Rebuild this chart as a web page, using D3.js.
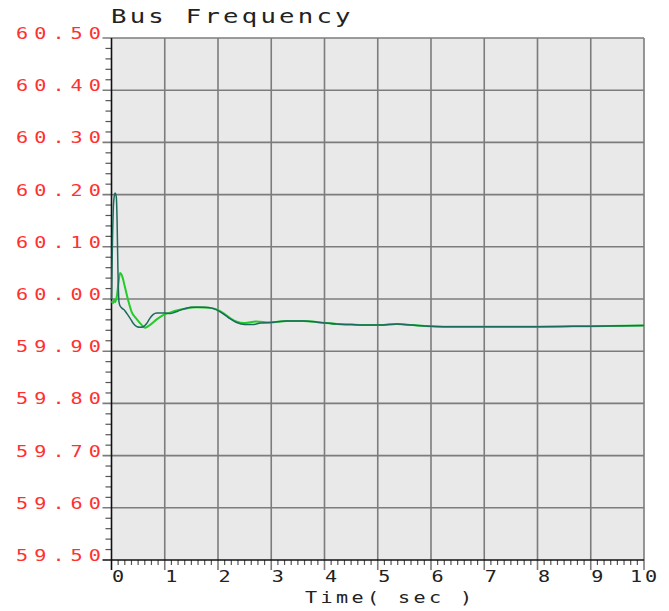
<!DOCTYPE html>
<html>
<head>
<meta charset="utf-8">
<script src="https://cdn.jsdelivr.net/npm/d3@7/dist/d3.min.js"></script>
<style>
  html, body { margin: 0; padding: 0; background: #ffffff; }
  svg { display: block; }
  text { font-family: "DejaVu Sans Mono", "Liberation Mono", monospace; }
</style>
</head>
<body>
<svg id="chart" width="669" height="611"></svg>
<script>
// Bus frequency response after a disturbance (two simulation cases)
const chartTitle = "Bus Frequency";
const xAxisTitle = "Time( sec )";

const xTickValues = [0, 1, 2, 3, 4, 5, 6, 7, 8, 9, 10];
const xTickLabels = ["0", "1", "2", "3", "4", "5", "6", "7", "8", "9", "10"];
const yTickValues = [59.5, 59.6, 59.7, 59.8, 59.9, 60.0, 60.1, 60.2, 60.3, 60.4, 60.5];
const yTickLabels = ["59.50", "59.60", "59.70", "59.80", "59.90", "60.00", "60.10", "60.20", "60.30", "60.40", "60.50"];

// Case A (dark trace): time in seconds and frequency in Hz
const timeA = [0.00, 0.02, 0.04, 0.065, 0.09, 0.105, 0.12, 0.14, 0.16, 0.20, 0.24, 0.29, 0.35, 0.41, 0.48, 0.54,
  0.60, 0.66, 0.72, 0.78, 0.85, 1.00, 1.10, 1.20, 1.35, 1.50, 1.75, 1.90, 2.05, 2.20, 2.35, 2.50, 2.65, 2.80,
  2.98, 3.29, 3.60, 3.92, 4.23, 4.50, 4.72, 5.04, 5.36, 5.66, 5.98, 6.29, 7.00, 8.00, 9.00, 10.00];
const freqA = [60.000, 60.120, 60.185, 60.203, 60.196, 60.150, 60.060, 59.995, 59.987, 59.982, 59.979, 59.972,
  59.963, 59.953, 59.947, 59.946, 59.947, 59.953, 59.963, 59.970, 59.973, 59.973, 59.972, 59.975, 59.981,
  59.984, 59.984, 59.982, 59.975, 59.964, 59.955, 59.951, 59.951, 59.954, 59.955, 59.958, 59.958, 59.955,
  59.952, 59.951, 59.950, 59.950, 59.952, 59.950, 59.948, 59.947, 59.947, 59.947, 59.948, 59.949];

// Case B (bright green trace)
const timeB = [0.00, 0.03, 0.05, 0.07, 0.10, 0.13, 0.16, 0.20, 0.25, 0.32, 0.38, 0.47, 0.57, 0.63, 0.72, 0.85,
  0.97, 1.10, 1.22, 1.41, 1.60, 1.85, 1.97, 2.10, 2.22, 2.34, 2.50, 2.72, 2.98, 3.29, 3.60, 3.92, 4.23, 4.50,
  4.72, 5.04, 5.36, 5.66, 5.98, 6.29, 7.00, 8.00, 9.00, 10.00];
const freqB = [59.996, 59.992, 59.999, 59.994, 60.005, 60.030, 60.050, 60.044, 60.024, 59.995, 59.975, 59.962,
  59.950, 59.945, 59.950, 59.961, 59.969, 59.974, 59.978, 59.982, 59.984, 59.983, 59.980, 59.973, 59.964,
  59.957, 59.954, 59.957, 59.955, 59.958, 59.958, 59.955, 59.952, 59.951, 59.950, 59.950, 59.952, 59.950,
  59.948, 59.947, 59.947, 59.947, 59.948, 59.949];

const svg = d3.select("#chart");
const plot = { left: 111.5, right: 644, top: 38, bottom: 560 };

const x = d3.scaleLinear().domain([0, 10]).range([plot.left, plot.right]);
const y = d3.scaleLinear().domain([59.5, 60.5]).range([plot.bottom, plot.top]);

// plot background
svg.append("rect")
  .attr("x", plot.left).attr("y", plot.top)
  .attr("width", plot.right - plot.left).attr("height", plot.bottom - plot.top)
  .attr("fill", "#e9e9e9");

const gridColor = "#7c7c7c";

// minor ticks on the x axis (1/8 s) and y axis (0.02 Hz)
const xMinor = d3.range(0, 80).map(i => i / 8).filter(v => v % 1 !== 0);
svg.append("g").selectAll("line").data(xMinor).join("line")
  .attr("x1", d => x(d)).attr("x2", d => x(d))
  .attr("y1", plot.bottom).attr("y2", plot.bottom + 5)
  .attr("stroke", "#555").attr("stroke-width", 1.2);

const yMinor = d3.range(0, 50).map(i => 59.5 + i * 0.02).filter((v, i) => i % 5 !== 0);
svg.append("g").selectAll("line").data(yMinor).join("line")
  .attr("x1", plot.left - 6).attr("x2", plot.left)
  .attr("y1", d => y(d)).attr("y2", d => y(d))
  .attr("stroke", "#555").attr("stroke-width", 1.2);

// major grid lines, running slightly past the axes as major ticks
svg.append("g").selectAll("line").data(xTickValues.slice(1)).join("line")
  .attr("x1", d => x(d)).attr("x2", d => x(d))
  .attr("y1", plot.top).attr("y2", plot.bottom + 10)
  .attr("stroke", gridColor).attr("stroke-width", 1.6);

svg.append("g").selectAll("line").data(yTickValues.slice(1)).join("line")
  .attr("x1", plot.left - 9).attr("x2", plot.right)
  .attr("y1", d => y(d)).attr("y2", d => y(d))
  .attr("stroke", gridColor).attr("stroke-width", 1.6);

// axis lines
svg.append("line")
  .attr("x1", plot.left).attr("x2", plot.left)
  .attr("y1", plot.top).attr("y2", plot.bottom + 10)
  .attr("stroke", "#111").attr("stroke-width", 1.6);
svg.append("line")
  .attr("x1", plot.left - 9).attr("x2", plot.right)
  .attr("y1", plot.bottom).attr("y2", plot.bottom)
  .attr("stroke", "#111").attr("stroke-width", 1.6);

// wide, widely spaced lettering in the style of a plotter font
function wideText(parent, px, py, str, opts) {
  const sx = opts.sx || 1.3;
  const g = parent.append("g").attr("transform", `translate(${px},${py}) scale(${sx},1)`);
  const t = g.append("text")
    .attr("x", opts.anchor === "end" ? opts.spacing : 0)
    .attr("y", 0)
    .attr("text-anchor", opts.anchor || "start")
    .attr("font-size", opts.size)
    .attr("letter-spacing", opts.spacing)
    .attr("fill", opts.fill)
    .text(str);
  return t;
}

// y tick labels
const yLabels = svg.append("g");
yTickValues.forEach((v, i) => {
  wideText(yLabels, 101, y(v) + 1, yTickLabels[i],
    { anchor: "end", size: 15.5, spacing: 4.7, fill: "#ff3030", sx: 1.3 });
});

// x tick labels
const xLabels = svg.append("g");
xTickValues.forEach((v, i) => {
  const lbl = xTickLabels[i];
  const px = lbl.length > 1 ? x(v) - 14 : x(v) + 0.5;
  wideText(xLabels, px, 582, lbl, { size: 15.5, spacing: 2.2, fill: "#222", sx: 1.3 });
});

// axis title and chart title
wideText(svg, 305, 603, xAxisTitle, { size: 15.5, spacing: 2.6, fill: "#222", sx: 1.3 });
wideText(svg, 111, 23, chartTitle, { size: 19, spacing: 2.4, fill: "#222", sx: 1.35 });

// traces
const line = d3.line().x(d => x(d[0])).y(d => y(d[1])).curve(d3.curveMonotoneX);
const seriesB = timeB.map((t, i) => [t, freqB[i]]);
const seriesA = timeA.map((t, i) => [t, freqA[i]]);

svg.append("path").datum(seriesB)
  .attr("d", line).attr("fill", "none")
  .attr("stroke", "#22cc2a").attr("stroke-width", 2);
svg.append("path").datum(seriesA)
  .attr("d", line).attr("fill", "none")
  .attr("stroke", "#1d6b5e").attr("stroke-width", 1.5);
</script>
</body>
</html>
